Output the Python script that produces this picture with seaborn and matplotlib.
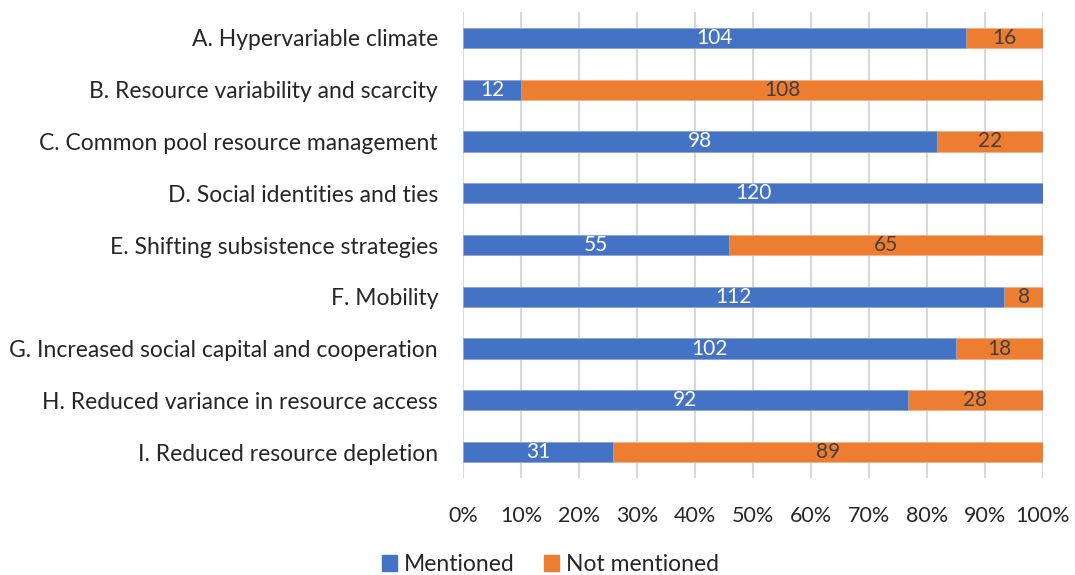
import numpy as np
import pandas as pd
import seaborn as sns
import matplotlib.pyplot as plt
from matplotlib.patches import Patch

categories = ['A. Hypervariable climate',
              'B. Resource variability and scarcity',
              'C. Common pool resource management',
              'D. Social identities and ties',
              'E. Shifting subsistence strategies',
              'F. Mobility',
              'G. Increased social capital and cooperation',
              'H. Reduced variance in resource access',
              'I. Reduced resource depletion']
mentioned = [104, 12, 98, 120, 55, 112, 102, 92, 31]
not_mentioned = [16, 108, 22, 0, 65, 8, 18, 28, 89]

blue = '#4472C4'
orange = '#ED7D31'

df = pd.DataFrame({'category': categories,
                   'mentioned': mentioned,
                   'not_mentioned': not_mentioned})
df['total'] = df['mentioned'] + df['not_mentioned']
df['pct_m'] = df['mentioned'] / df['total'] * 100
df['pct_all'] = 100.0

sns.set_style('white')
plt.rcParams['font.family'] = ['Lato', 'DejaVu Sans']

fig = plt.figure(figsize=(10.75, 5.75), dpi=100)
ax = fig.add_axes([0.4307, 0.1687, 0.5395, 0.8103])

# orange full bar underneath, blue share on top
sns.barplot(data=df, y='category', x='pct_all', color=orange, width=0.39,
            orient='h', ax=ax, saturation=1, edgecolor='#F4B183', linewidth=0.6)
sns.barplot(data=df, y='category', x='pct_m', color=blue, width=0.39,
            orient='h', ax=ax, saturation=1, edgecolor='#8FAADC', linewidth=0.6)

# value labels
for i, (m, n) in enumerate(zip(mentioned, not_mentioned)):
    tot = m + n
    pm = m / tot * 100
    if m > 0:
        ax.text(pm / 2, i, str(m), ha='center', va='center',
                color='white', fontsize=15)
    if n > 0:
        ax.text(pm + (100 - pm) / 2, i, str(n), ha='center', va='center',
                color='#404040', fontsize=15)

ax.set_xlim(0, 100)
ax.set_ylim(8.5, -0.5)
ax.set_xticks(np.arange(0, 101, 10))
ax.set_xticklabels([f'{v}%' for v in range(0, 101, 10)])
ax.set_xlabel('')
ax.set_ylabel('')
ax.xaxis.grid(True, color='#D9D9D9', linewidth=1.5)
ax.set_axisbelow(True)
for s in ax.spines.values():
    s.set_visible(False)
ax.tick_params(axis='both', length=0, colors='#262626')
ax.tick_params(axis='x', pad=20, labelsize=15.5)
ax.tick_params(axis='y', pad=18, labelsize=16.5)

handles = [Patch(color=blue, label='Mentioned'),
           Patch(color=orange, label='Not mentioned')]
fig.legend(handles=handles, loc='center', bbox_to_anchor=(0.512, 0.018),
           ncol=2, frameon=False, fontsize=16.5, handlelength=0.65,
           handleheight=0.7, handletextpad=0.3, columnspacing=1.3,
           labelcolor='#262626')

fig.savefig('out.png', dpi=100)
